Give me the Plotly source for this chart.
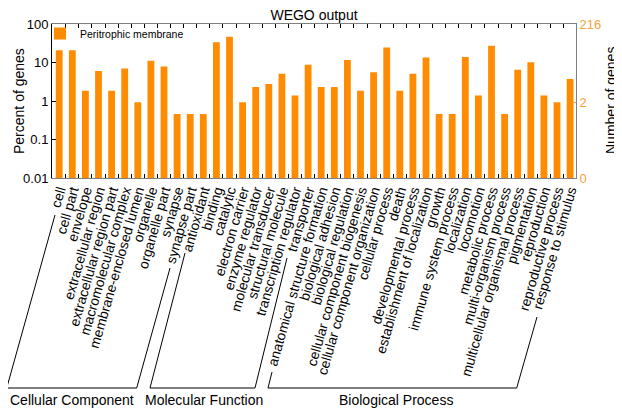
import plotly.graph_objects as go

categories = [
    "cell", "cell part", "envelope", "extracellular region", "extracellular region part",
    "macromolecular complex", "membrane-enclosed lumen", "organelle", "organelle part",
    "synapse", "synapse part",
    "antioxidant", "binding", "catalytic", "electron carrier", "enzyme regulator",
    "molecular transducer", "structural molecule", "transcription regulator", "transporter",
    "anatomical structure formation", "biological adhesion", "biological regulation",
    "cellular component biogenesis", "cellular component organization", "cellular process",
    "death", "developmental process", "establishment of localization", "growth",
    "immune system process", "localization", "locomotion", "metabolic process",
    "multi-organism process", "multicellular organismal process", "pigmentation",
    "reproduction", "reproductive process", "response to stimulus",
]
gene_counts = [45, 45, 4, 13, 4, 15, 2, 24, 17, 1, 1,
               1, 72, 101, 2, 5, 6, 11, 3, 19,
               5, 5, 25, 4, 12, 53, 4, 11, 29, 1, 1, 30, 3, 59, 1, 14, 22, 3, 2, 8]
total_genes = 216
series_name = "Peritrophic membrane"
percent = [c / total_genes * 100 for c in gene_counts]

left_ticks = [0.01, 0.1, 1, 10, 100]
left_tick_text = ["0.01", "0.1", "1", "10", "100"]
right_tick_counts = [0, 2, 216]
right_tick_text = ["0", "2", "216"]
groups = ["Cellular Component", "Molecular Function", "Biological Process"]

# page is shown with an 8px body margin, so the figure is 8px smaller than the window
OFF = 8
W, H = 622 - OFF, 411 - OFF
ML, MT, PW, PH = 52 - OFF, 24 - OFF, 524, 154
MR = W - ML - PW
MB = H - MT - PH

def px(x, y):
    """reference window pixel -> paper coordinates"""
    fx, fy = x - OFF, y - OFF
    return (fx - ML) / PW, (MT + PH - fy) / PH

ORANGE = "#FF8C00"
LIGHT_ORANGE = "#F2A23C"
FONT = "Liberation Sans, Arial, sans-serif"

fig = go.Figure()
fig.add_trace(go.Bar(x=categories, y=percent, name=series_name,
                     marker=dict(color=ORANGE, line=dict(width=0)),
                     showlegend=True))
fig.add_trace(go.Scatter(x=categories, y=percent, yaxis="y2", mode="markers",
                         marker=dict(opacity=0), showlegend=False, hoverinfo="skip"))

right_tickvals = [0.01 if c == 0 else c / total_genes * 100 for c in right_tick_counts]

# group brackets (reference pixel positions of the bracket corners)
brackets = [
    [(55, 215), (6.7, 388), (136.7, 388), (170, 268)],
    [(185, 253), (150, 388), (255, 388), (287, 258)],
    [(272, 372), (268, 388), (516.7, 388), (537, 317)],
]
group_label_pos = [(72, 400), (204, 400), (396, 400)]

shapes = []
for pts in brackets:
    for (x0, y0), (x1, y1) in zip(pts[:-1], pts[1:]):
        a0, b0 = px(x0, y0)
        a1, b1 = px(x1, y1)
        shapes.append(dict(type="line", xref="paper", yref="paper",
                           x0=a0, y0=b0, x1=a1, y1=b1,
                           line=dict(color="black", width=1)))

annotations = []
for g, (gx, gy) in zip(groups, group_label_pos):
    a, b = px(gx, gy)
    annotations.append(dict(text=g, x=a, y=b, xref="paper", yref="paper",
                            showarrow=False, xanchor="center", yanchor="middle",
                            font=dict(size=14, color="black", family=FONT)))

# axis titles
a, b = px(19, 101)
annotations.append(dict(text="Percent of genes", x=a, y=b, xref="paper", yref="paper",
                        textangle=-90, showarrow=False, xanchor="center", yanchor="middle",
                        font=dict(size=14, color="black", family=FONT)))
a, b = px(611, 101)
annotations.append(dict(text="Number of genes", x=a, y=b, xref="paper", yref="paper",
                        textangle=-90, showarrow=False, xanchor="center", yanchor="middle",
                        font=dict(size=14, color="black", family=FONT)))

lx, ly = px(40, 19)

fig.update_layout(
    width=W, height=H,
    margin=dict(l=ML, r=MR, t=MT, b=MB, autoexpand=False),
    paper_bgcolor="white", plot_bgcolor="white",
    font=dict(family=FONT, color="black", size=13),
    title=dict(text="WEGO output", x=0.5, xref="paper", xanchor="center",
               y=1 - 2 / H, yanchor="top", font=dict(size=14, color="black")),
    bargap=0.48,
    barmode="overlay",
    showlegend=True,
    legend=dict(x=lx, y=ly, xanchor="left", yanchor="top",
                bgcolor="rgba(0,0,0,0)", font=dict(size=10.5),
                itemwidth=30, tracegroupgap=0),
    xaxis=dict(
        type="category", tickmode="array", tickvals=categories, ticktext=categories,
        tickangle=-74, tickfont=dict(size=13.8, color="black"),
        ticks="inside", ticklen=4, tickcolor="black", tickson="boundaries",
        showline=True, linecolor="#808080", mirror="ticks", layer="below traces",
        showgrid=False, automargin=False, range=[-0.55, 39.45],
        ticklabelstandoff=-2,
    ),
    yaxis=dict(
        type="log", range=[-2, 2], tickmode="array", tickvals=left_ticks,
        ticktext=left_tick_text, ticks="inside", ticklen=4, tickcolor="black",
        showline=True, linecolor="black", showgrid=False, zeroline=False,
        tickfont=dict(size=13), automargin=False,
    ),
    yaxis2=dict(
        type="log", range=[-2, 2], overlaying="y", side="right",
        tickmode="array", tickvals=right_tickvals, ticktext=right_tick_text,
        ticks="inside", ticklen=4, tickcolor=LIGHT_ORANGE,
        tickfont=dict(size=13, color=LIGHT_ORANGE),
        showline=True, linecolor="#808080", showgrid=False, zeroline=False,
        automargin=False,
    ),
    shapes=shapes,
    annotations=annotations,
)

fig.write_html("out.html")
